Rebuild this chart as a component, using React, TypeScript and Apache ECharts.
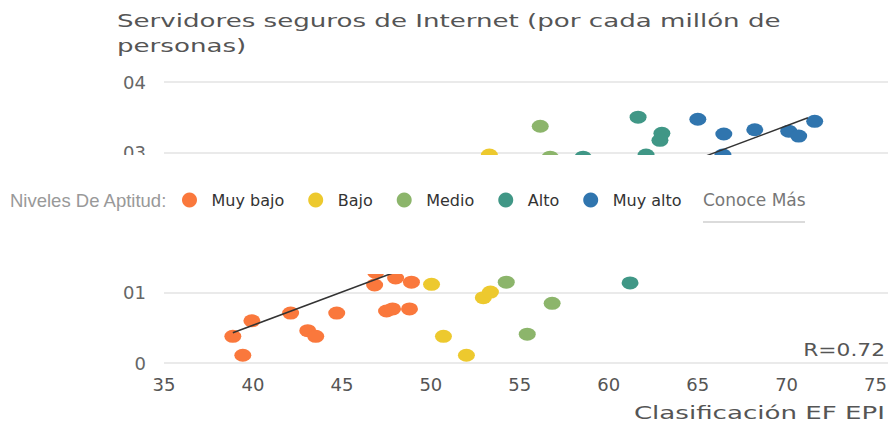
import React, { useEffect, useRef } from "react";
import * as echarts from "echarts";

// ---- data (x: Clasificación EF EPI, y: servidores seguros, escala del eje) ----
const seriesNames = ["Muy bajo", "Bajo", "Medio", "Alto", "Muy alto"];
const seriesColors = ["#FA783C", "#EDC92E", "#8CB56B", "#409786", "#3075AE"];

const muyBajo: [number, number][] = [
  [38.87, 0.38], [39.43, 0.11], [39.94, 0.6], [42.12, 0.71], [43.08, 0.46],
  [43.53, 0.38], [44.71, 0.71], [46.84, 1.11], [46.9, 1.29], [48.02, 1.21],
  [48.91, 1.15], [47.51, 0.74], [47.85, 0.77], [48.8, 0.77],
];
const bajo: [number, number][] = [
  [50.04, 1.12], [50.71, 0.38], [52.0, 0.11], [52.95, 0.93], [53.35, 1.01],
  [53.29, 2.96],
];
const medio: [number, number][] = [
  [54.24, 1.15], [56.82, 0.85], [55.42, 0.41], [56.15, 3.37], [56.71, 2.93],
];
const alto: [number, number][] = [
  [61.2, 1.14], [58.56, 2.93], [61.65, 3.5], [62.99, 3.27], [62.88, 3.17],
  [62.1, 2.96],
];
const muyAlto: [number, number][] = [
  [65.01, 3.47], [66.47, 3.26], [68.21, 3.32], [70.12, 3.3], [70.68, 3.23],
  [71.58, 3.44], [66.42, 2.96],
];
const trendLine: [number, number][] = [
  [38.87, 0.43],
  [71.2, 3.49],
];
const yTickLabels = ["0", "01", "02", "03", "04"];
const xTicks = [35, 40, 45, 50, 55, 60, 65, 70, 75];
const titleLines = ["Servidores seguros de Internet (por cada millón de", "personas)"];
const xAxisName = "Clasificación EF EPI";
const rLabel = "R=0.72";
const legendPrefix = "Niveles De Aptitud:";
const legendLink = "Conoce Más";

const allSeries = [muyBajo, bajo, medio, alto, muyAlto];
const ellipse = "path://M0,50 A50,50 0 1,1 100,50 A50,50 0 1,1 0,50 Z";

export default function App() {
  const ref = useRef<HTMLDivElement>(null);
  useEffect(() => {
    if (!ref.current) return;
    const chart = echarts.init(ref.current, undefined, { renderer: "svg" });
    const wideFont = "DejaVu Sans";
    chart.setOption({
      animation: false,
      backgroundColor: "#ffffff",
      grid: { left: 164, right: 1, top: 82, bottom: 61, containLabel: false },
      xAxis: {
        type: "value",
        min: 35,
        max: 75.7,
        interval: 5,
        axisLine: { show: false },
        axisTick: { show: false },
        splitLine: { show: false },
        axisLabel: {
          margin: 12,
          fontFamily: wideFont,
          fontSize: 18,
          color: "#555",
          formatter: (v: number) => (xTicks.indexOf(Math.round(v * 100) / 100) >= 0 ? String(v) : ""),
        },
      },
      yAxis: {
        type: "value",
        min: 0,
        max: 4,
        interval: 1,
        axisLine: { show: false },
        axisTick: { show: false },
        splitLine: { lineStyle: { color: "#e3e3e3", width: 1.5 } },
        axisLabel: {
          margin: 18,
          fontFamily: wideFont,
          fontSize: 18,
          color: "#666",
          formatter: (v: number) => yTickLabels[Math.round(v)] ?? "",
        },
      },
      legend: {
        data: seriesNames,
        left: 177,
        top: 187,
        itemWidth: 34,
        itemHeight: 15,
        itemGap: 24,
        icon: "circle",
        selectedMode: false,
        z: 110,
        textStyle: { fontFamily: wideFont, fontSize: 16, color: "#333" },
      },
      series: [
        ...allSeries.map((d, i) => ({
          name: seriesNames[i],
          type: "scatter",
          data: d,
          symbol: ellipse,
          symbolSize: [17, 13],
          itemStyle: { color: seriesColors[i], opacity: 1 },
          z: 2,
        })),
        {
          name: "trend",
          type: "line",
          data: trendLine,
          showSymbol: false,
          symbol: "none",
          lineStyle: { color: "#333", width: 1.5 },
          z: 3,
        },
      ],
      graphic: [
        {
          type: "rect",
          shape: { x: 0, y: 155, width: 891, height: 119 },
          style: { fill: "#ffffff" },
          z: 100,
          silent: true,
        },
        {
          type: "text",
          x: 10,
          y: 200,
          z: 110,
          style: {
            text: legendPrefix,
            fontFamily: "Liberation Sans",
            fontSize: 18.5,
            fill: "#999",
            verticalAlign: "middle",
          },
        },
        {
          type: "text",
          x: 703,
          y: 200,
          z: 110,
          style: {
            text: legendLink,
            fontFamily: wideFont,
            fontSize: 17,
            fill: "#777",
            verticalAlign: "middle",
          },
        },
        {
          type: "line",
          z: 110,
          shape: { x1: 703, y1: 222, x2: 805, y2: 222 },
          style: { stroke: "#cfcfcf", lineWidth: 1.5 },
        },
        ...titleLines.map((t, i) => ({
          type: "text",
          x: 117,
          y: 21 + i * 25,
          scaleX: 1.45,
          z: 110,
          style: {
            text: t,
            fontFamily: wideFont,
            fontSize: 18,
            fontWeight: 500,
            fill: "#555",
            verticalAlign: "middle",
          },
        })),
        {
          type: "text",
          x: 885,
          y: 413,
          scaleX: 1.45,
          z: 110,
          style: {
            text: xAxisName,
            fontFamily: wideFont,
            fontSize: 18,
            fill: "#555",
            align: "right",
            verticalAlign: "middle",
          },
        },
        {
          type: "text",
          x: 885,
          y: 350,
          scaleX: 1.28,
          z: 110,
          style: {
            text: rLabel,
            fontFamily: wideFont,
            fontSize: 17,
            fill: "#555",
            align: "right",
            verticalAlign: "middle",
          },
        },
      ],
    });
    return () => chart.dispose();
  }, []);
  return (
    <div
      ref={ref}
      style={{ position: "fixed", left: 0, top: 0, width: 891, height: 424, background: "#fff" }}
    />
  );
}
